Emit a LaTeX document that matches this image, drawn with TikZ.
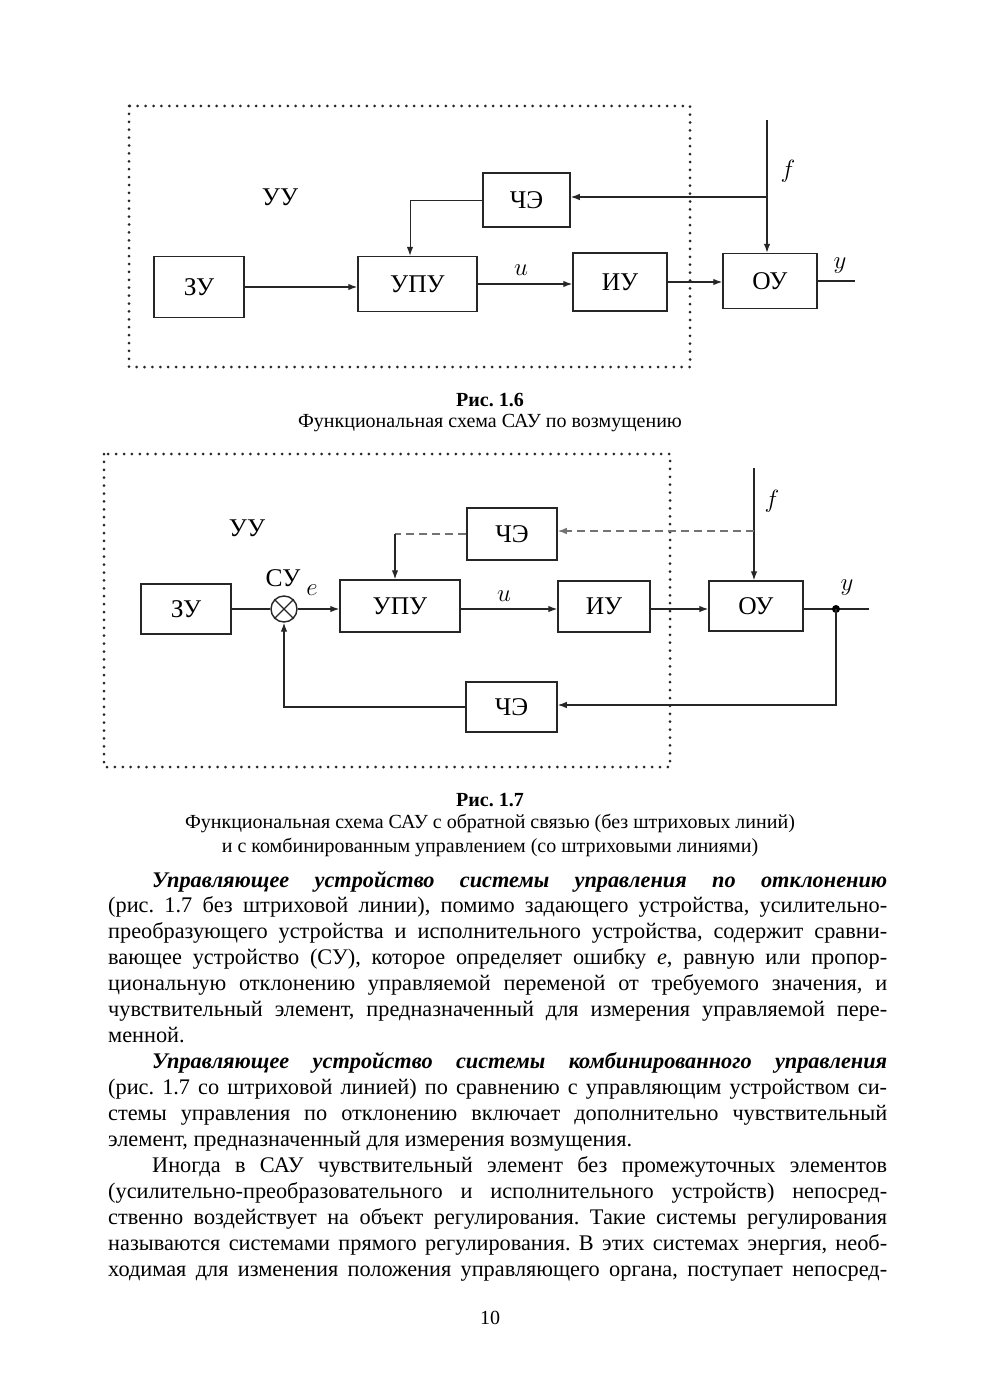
\documentclass[tikz,border=0pt]{standalone}
\usepackage{fontspec}
\setmainfont{Liberation Serif}
\usetikzlibrary{arrows.meta,calc}
\newcommand\lbl{\fontsize{25.5}{27}\selectfont}
\newcommand\bodyf{\fontsize{22.3}{26}\selectfont\frenchspacing}
\newcommand\capf{\fontsize{20}{23}\selectfont\frenchspacing}
\tikzset{
  blk/.style={draw=black!85, line width=1.5pt, inner sep=0pt, font=\lbl},
  conn/.style={line width=1.2pt, draw=black!85},
  arr/.style={conn, -{Latex[length=9pt,width=6.5pt]}},
  dotbox/.style={line width=3pt, dash pattern=on 0pt off 7.9pt, line cap=round, draw=black!85},
  dsh/.style={line width=1.3pt, draw=black!55, dash pattern=on 8pt off 5pt},
  lab/.style={inner sep=0pt, font=\lbl},
  txt/.style={anchor=base west, inner sep=0pt, font=\bodyf},
  ctxt/.style={anchor=base, inner sep=0pt, font=\capf},
}
\begin{document}
\begin{tikzpicture}[x=1pt,y=-1pt]
\useasboundingbox (0,0) rectangle (981,1386);
\fill[white] (0,0) rectangle (981,1386);

% ---------------- Fig 1.6 ----------------
\draw[dotbox] (129,106) rectangle (690,367);
\node[lab] (uu1) at (280,197) {УУ};
\node[blk, minimum width=90pt, minimum height=61pt] (zu1) at (199,287) {ЗУ};
\node[blk, minimum width=119pt, minimum height=55pt] (upu1) at (417.5,284) {УПУ};
\node[blk, minimum width=94pt, minimum height=58pt] (iu1) at (620,282) {ИУ};
\node[blk, minimum width=94pt, minimum height=55pt] (ou1) at (770,281) {ОУ};
\node[blk, minimum width=87pt, minimum height=54pt] (che1) at (526.5,200) {ЧЭ};
\coordinate (ftop1) at (767,120);
\coordinate (br1) at (767,197);
\coordinate (k1) at (410,200);
\coordinate (out1) at (855,281);
\draw[arr] (zu1.east) -- (zu1.east -| upu1.west);
\draw[arr] (upu1.east) -- (upu1.east -| iu1.west);
\draw[arr] (iu1.east) -- (iu1.east -| ou1.west);
\draw[conn] (ou1.east) -- (out1);
\draw[arr] (ftop1) -- (ftop1 |- ou1.north);
\draw[arr] (br1) -- (br1 -| che1.east);
\draw[arr, line width=1pt] (che1.west) -- (k1) -- (k1 |- upu1.north);
\node[lab] (u1) at (521,270) {$u$};
\node[lab] (f1) at (788,171) {$f$};
\node[lab] (y1) at (840,266) {$y$};

\node[ctxt] (cap1a) at (490,406) {\textbf{Рис. 1.6}};
\node[ctxt] (cap1b) at (490,427) {Функциональная схема САУ по возмущению};

% ---------------- Fig 1.7 ----------------
\draw[dotbox] (104,454) rectangle (670,767);
\node[lab] (uu2) at (247,528) {УУ};
\node[blk, minimum width=90pt, minimum height=50pt] (zu2) at (186,609) {ЗУ};
\node[draw=black!85, line width=1.4pt, circle, minimum size=26pt, inner sep=0pt] (sum) at (284,609) {};
\draw[line width=1.2pt, black!85] (sum.north east) -- (sum.south west);
\draw[line width=1.2pt, black!85] (sum.north west) -- (sum.south east);
\node[blk, minimum width=120pt, minimum height=52pt] (upu2) at (400,606) {УПУ};
\node[blk, minimum width=92pt, minimum height=51pt] (iu2) at (604,606.5) {ИУ};
\node[blk, minimum width=94pt, minimum height=50pt] (ou2) at (756,606) {ОУ};
\node[blk, minimum width=90pt, minimum height=52pt] (che2) at (512,534) {ЧЭ};
\node[blk, minimum width=91pt, minimum height=50pt] (che3) at (511.5,707) {ЧЭ};
\coordinate (ftop2) at (754,468);
\coordinate (br2) at (754,531);
\coordinate (k2) at (395,534);
\coordinate (dot) at (836,609);
\coordinate (out2) at (869,609);
\coordinate (fb1) at (836,705);
\coordinate (fb2) at (284,707);
\draw[conn] (zu2.east) -- (sum.west);
\draw[arr] (sum.east) -- (sum.east -| upu2.west);
\draw[arr] (upu2.east |- dot) -- (dot -| iu2.west);
\draw[arr] (iu2.east |- dot) -- (dot -| ou2.west);
\draw[conn] (ou2.east |- dot) -- (out2);
\fill[black] (dot) circle (4pt);
\draw[arr] (ftop2) -- (ftop2 |- ou2.north);
\draw[dsh, -{Latex[length=9pt,width=6.5pt]}] (br2) -- (br2 -| che2.east);
\draw[dsh] (che2.west) -- (k2);
\draw[arr] (k2) -- (k2 |- upu2.north);
\draw[arr] (dot) -- (fb1) -- (fb1 -| che3.east);
\draw[arr] (che3.west) -- (fb2) -- (sum.south);
\node[lab] (su) at (283,578) {СУ};
\node[lab] (e2) at (312,590) {$e$};
\node[lab] (u2) at (504,596) {$u$};
\node[lab] (f2) at (772,501) {$f$};
\node[lab] (y2) at (847,588) {$y$};

\node[ctxt] (cap2a) at (490,806) {\textbf{Рис. 1.7}};
\node[ctxt] (cap2b) at (490,828) {Функциональная схема САУ с обратной связью (без штриховых линий)};
\node[ctxt] (cap2c) at (490,852) {и с комбинированным управлением (со штриховыми линиями)};

% ---------------- Body text ----------------
\node[txt] (t1) at (152,887) {\makebox[735pt][s]{\textbf{\textit{Управляющее устройство системы управления по отклонению}}}};
\node[txt] (t2) at (108,912.9) {\makebox[779pt][s]{(рис. 1.7 без штриховой линии), помимо задающего устройства, усилительно-}};
\node[txt] (t3) at (108,938.9) {\makebox[779pt][s]{преобразующего устройства и исполнительного устройства, содержит сравни-}};
\node[txt] (t4) at (108,964.8) {\makebox[779pt][s]{вающее устройство (СУ), которое определяет ошибку \textit{e}, равную или пропор-}};
\node[txt] (t5) at (108,990.7) {\makebox[779pt][s]{циональную отклонению управляемой переменой от требуемого значения, и}};
\node[txt] (t6) at (108,1016.7) {\makebox[779pt][s]{чувствительный элемент, предназначенный для измерения управляемой пере-}};
\node[txt] (t7) at (108,1042.6) {менной.};
\node[txt] (t8) at (152,1068.5) {\makebox[735pt][s]{\textbf{\textit{Управляющее устройство системы комбинированного управления}}}};
\node[txt] (t9) at (108,1094.4) {\makebox[779pt][s]{(рис. 1.7 со штриховой линией) по сравнению с управляющим устройством си-}};
\node[txt] (t10) at (108,1120.4) {\makebox[779pt][s]{стемы управления по отклонению включает дополнительно чувствительный}};
\node[txt] (t11) at (108,1146.3) {элемент, предназначенный для измерения возмущения.};
\node[txt] (t12) at (152,1172.2) {\makebox[735pt][s]{Иногда в САУ чувствительный элемент без промежуточных элементов}};
\node[txt] (t13) at (108,1198.2) {\makebox[779pt][s]{(усилительно-преобразовательного и исполнительного устройств) непосред-}};
\node[txt] (t14) at (108,1224.1) {\makebox[779pt][s]{ственно воздействует на объект регулирования. Такие системы регулирования}};
\node[txt] (t15) at (108,1250.0) {\makebox[779pt][s]{называются системами прямого регулирования. В этих системах энергия, необ-}};
\node[txt] (t16) at (108,1276.0) {\makebox[779pt][s]{ходимая для изменения положения управляющего органа, поступает непосред-}};
\node[ctxt] (pg) at (490,1324) {10};
\end{tikzpicture}
\end{document}
